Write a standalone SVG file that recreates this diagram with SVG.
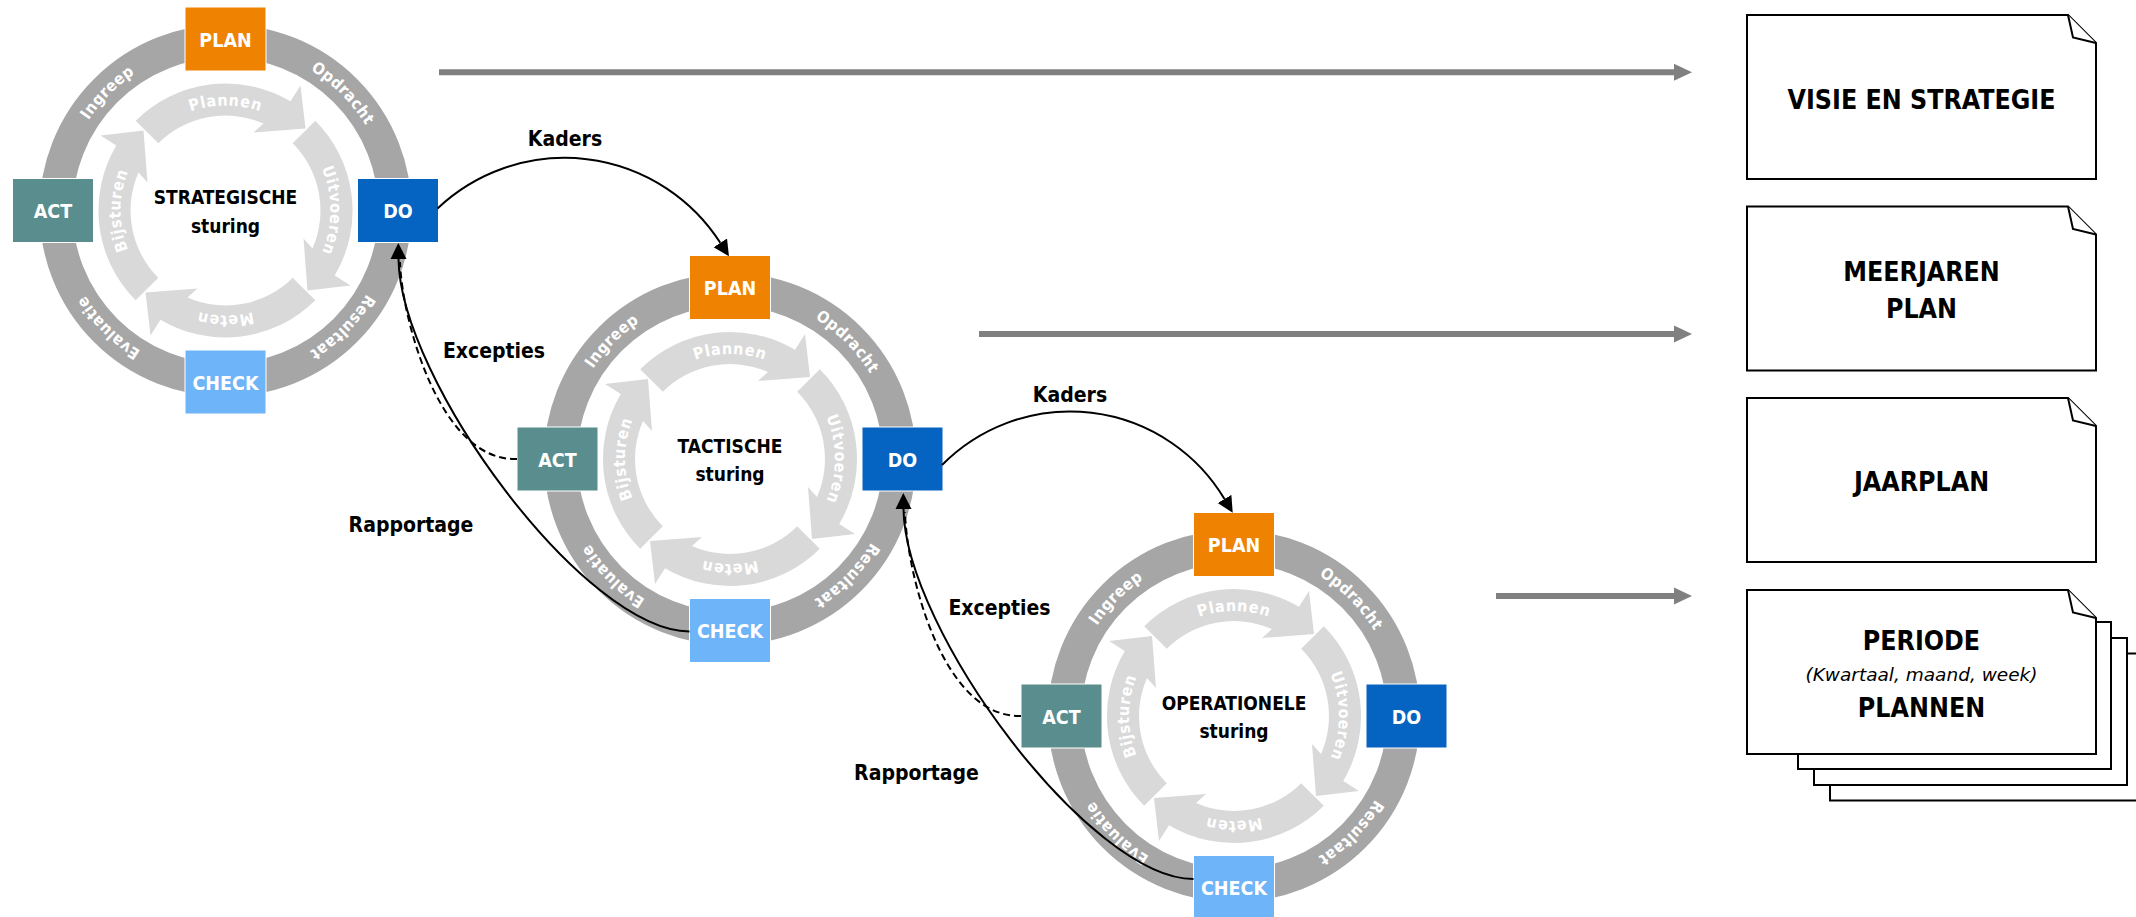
<svg xmlns="http://www.w3.org/2000/svg" width="2136" height="917" viewBox="0 0 2136 917">
<style>
.b{font-family:"DejaVu Sans Condensed","DejaVu Sans",sans-serif;font-stretch:condensed;font-weight:bold}
.ring{fill:none;stroke:#a6a6a6;stroke-width:33}
.arw{fill:#d9d9d9}
.rt{font-size:16px;fill:#fff;letter-spacing:0.5px}
.it{font-size:16px;fill:#fff;letter-spacing:0.8px}
.ctr{font-size:19px;fill:#000;text-anchor:middle}
.bx{stroke:#fff;stroke-width:1}
.bl{font-size:19.5px;fill:#fff;text-anchor:middle}
.plan{fill:#ef8200}.do{fill:#0563c1}.act{fill:#5a8e8e}.check{fill:#6eb4f8}
.lbl{font-size:21px;fill:#000;text-anchor:middle}
.conn{fill:none;stroke:#000;stroke-width:2}
.dash{stroke-dasharray:7 4}
.garr{stroke:#808080;stroke-width:6;fill:none}
.doc{fill:#fff;stroke:#000;stroke-width:2;stroke-linejoin:miter}
.dt{font-size:26.5px;fill:#000;text-anchor:middle}
.di{font-family:"DejaVu Sans",sans-serif;font-style:italic;font-weight:normal;font-size:18.5px;fill:#000;text-anchor:middle}
</style>
<defs>
<path id="arw" d="M-89.8,-89.8 A127,127 0 0 1 65,-109.2 L75,-125 L80,-82 L28,-78 L38,-87 A95,95 0 0 0 -67.2,-67.2 Z"/>
<path id="p-opd" d="M-115.97,-115.97 A164,164 0 0 1 115.97,115.97"/>
<path id="p-res" d="M115.97,-115.97 A164,164 0 0 1 -115.97,115.97"/>
<path id="p-eva" d="M115.97,115.97 A164,164 0 0 1 -115.97,-115.97"/>
<path id="p-ing" d="M-115.97,115.97 A164,164 0 0 1 115.97,-115.97"/>
<path id="p-pla" d="M-105,0 A105,105 0 0 1 105,0"/>
<path id="p-uit" d="M0,-105 A105,105 0 0 1 0,105"/>
<path id="p-met" d="M105,0 A105,105 0 0 1 -105,0"/>
<path id="p-bij" d="M0,105 A105,105 0 0 1 0,-105"/>
<marker id="ah" markerUnits="userSpaceOnUse" markerWidth="18" markerHeight="18" viewBox="0 -9 18 18" refX="0" refY="0" orient="auto"><path d="M0,-8 L16,0 L0,8 Z" fill="#000"/></marker>
<marker id="gh" markerUnits="userSpaceOnUse" markerWidth="20" markerHeight="20" viewBox="0 -10 20 20" refX="0" refY="0" orient="auto"><path d="M0,-8.5 L18,0 L0,8.5 Z" fill="#808080"/></marker>
</defs>

<g id="cycle-strategisch" transform="translate(225.5,210.5)">
<circle class="ring" r="169.5"/>
<use href="#arw" class="arw"/><use href="#arw" class="arw" transform="rotate(90)"/><use href="#arw" class="arw" transform="rotate(180)"/><use href="#arw" class="arw" transform="rotate(270)"/>
<text class="b rt" text-anchor="middle"><textPath href="#p-opd" startOffset="50%">Opdracht</textPath></text>
<text class="b rt" text-anchor="middle"><textPath href="#p-res" startOffset="50%">Resultaat</textPath></text>
<text class="b rt" text-anchor="middle"><textPath href="#p-eva" startOffset="50%">Evaluatie</textPath></text>
<text class="b rt" text-anchor="middle"><textPath href="#p-ing" startOffset="50%">Ingreep</textPath></text>
<text class="b it" text-anchor="middle"><textPath href="#p-pla" startOffset="50%">Plannen</textPath></text>
<text class="b it" text-anchor="middle"><textPath href="#p-uit" startOffset="50%">Uitvoeren</textPath></text>
<text class="b it" text-anchor="middle"><textPath href="#p-met" startOffset="50%">Meten</textPath></text>
<text class="b it" text-anchor="middle"><textPath href="#p-bij" startOffset="50%">Bijsturen</textPath></text>
<text class="b ctr" y="-6.5">STRATEGISCHE</text>
<text class="b ctr" y="22">sturing</text>
<g id="s-plan"><rect class="plan bx" x="-40.5" y="-203.5" width="81" height="64"/><text class="b bl" y="-164">PLAN</text></g>
<g id="s-do"><rect class="do bx" x="132" y="-32" width="81" height="64"/><text class="b bl" x="172.5" y="7.5">DO</text></g>
<g id="s-check"><rect class="check bx" x="-40.5" y="139.5" width="81" height="64"/><text class="b bl" y="179">CHECK</text></g>
<g id="s-act"><rect class="act bx" x="-213" y="-32" width="81" height="64"/><text class="b bl" x="-172.5" y="7.5">ACT</text></g>
</g>

<g id="cycle-tactisch" transform="translate(730,459)">
<circle class="ring" r="169.5"/>
<use href="#arw" class="arw"/><use href="#arw" class="arw" transform="rotate(90)"/><use href="#arw" class="arw" transform="rotate(180)"/><use href="#arw" class="arw" transform="rotate(270)"/>
<text class="b rt" text-anchor="middle"><textPath href="#p-opd" startOffset="50%">Opdracht</textPath></text>
<text class="b rt" text-anchor="middle"><textPath href="#p-res" startOffset="50%">Resultaat</textPath></text>
<text class="b rt" text-anchor="middle"><textPath href="#p-eva" startOffset="50%">Evaluatie</textPath></text>
<text class="b rt" text-anchor="middle"><textPath href="#p-ing" startOffset="50%">Ingreep</textPath></text>
<text class="b it" text-anchor="middle"><textPath href="#p-pla" startOffset="50%">Plannen</textPath></text>
<text class="b it" text-anchor="middle"><textPath href="#p-uit" startOffset="50%">Uitvoeren</textPath></text>
<text class="b it" text-anchor="middle"><textPath href="#p-met" startOffset="50%">Meten</textPath></text>
<text class="b it" text-anchor="middle"><textPath href="#p-bij" startOffset="50%">Bijsturen</textPath></text>
<text class="b ctr" y="-6.5">TACTISCHE</text>
<text class="b ctr" y="22">sturing</text>
<g id="t-plan"><rect class="plan bx" x="-40.5" y="-203.5" width="81" height="64"/><text class="b bl" y="-164">PLAN</text></g>
<g id="t-do"><rect class="do bx" x="132" y="-32" width="81" height="64"/><text class="b bl" x="172.5" y="7.5">DO</text></g>
<g id="t-check"><rect class="check bx" x="-40.5" y="139.5" width="81" height="64"/><text class="b bl" y="179">CHECK</text></g>
<g id="t-act"><rect class="act bx" x="-213" y="-32" width="81" height="64"/><text class="b bl" x="-172.5" y="7.5">ACT</text></g>
</g>

<g id="cycle-operationeel" transform="translate(1234,716)">
<circle class="ring" r="169.5"/>
<use href="#arw" class="arw"/><use href="#arw" class="arw" transform="rotate(90)"/><use href="#arw" class="arw" transform="rotate(180)"/><use href="#arw" class="arw" transform="rotate(270)"/>
<text class="b rt" text-anchor="middle"><textPath href="#p-opd" startOffset="50%">Opdracht</textPath></text>
<text class="b rt" text-anchor="middle"><textPath href="#p-res" startOffset="50%">Resultaat</textPath></text>
<text class="b rt" text-anchor="middle"><textPath href="#p-eva" startOffset="50%">Evaluatie</textPath></text>
<text class="b rt" text-anchor="middle"><textPath href="#p-ing" startOffset="50%">Ingreep</textPath></text>
<text class="b it" text-anchor="middle"><textPath href="#p-pla" startOffset="50%">Plannen</textPath></text>
<text class="b it" text-anchor="middle"><textPath href="#p-uit" startOffset="50%">Uitvoeren</textPath></text>
<text class="b it" text-anchor="middle"><textPath href="#p-met" startOffset="50%">Meten</textPath></text>
<text class="b it" text-anchor="middle"><textPath href="#p-bij" startOffset="50%">Bijsturen</textPath></text>
<text class="b ctr" y="-6.5">OPERATIONELE</text>
<text class="b ctr" y="22">sturing</text>
<g id="o-plan"><rect class="plan bx" x="-40.5" y="-203.5" width="81" height="64"/><text class="b bl" y="-164">PLAN</text></g>
<g id="o-do"><rect class="do bx" x="132" y="-32" width="81" height="64"/><text class="b bl" x="172.5" y="7.5">DO</text></g>
<g id="o-check"><rect class="check bx" x="-40.5" y="139.5" width="81" height="64"/><text class="b bl" y="179">CHECK</text></g>
<g id="o-act"><rect class="act bx" x="-213" y="-32" width="81" height="64"/><text class="b bl" x="-172.5" y="7.5">ACT</text></g>
</g>

<g id="doc-visie">
<path class="doc" d="M1747,15 H2068 L2096,43 V179 H1747 Z"/><path class="doc" d="M2068,15 L2073,37.5 L2096,43"/>
<text class="b dt" x="1921.5" y="109">VISIE EN STRATEGIE</text>
</g>
<g id="doc-meerjaren">
<path class="doc" d="M1747,206.5 H2068 L2096,234.5 V370.5 H1747 Z"/><path class="doc" d="M2068,206.5 L2073,229 L2096,234.5"/>
<text class="b dt" x="1921.5" y="281">MEERJAREN</text>
<text class="b dt" x="1921.5" y="318">PLAN</text>
</g>
<g id="doc-jaarplan">
<path class="doc" d="M1747,398 H2068 L2096,426 V562 H1747 Z"/><path class="doc" d="M2068,398 L2073,420.5 L2096,426"/>
<text class="b dt" x="1921.5" y="491">JAARPLAN</text>
</g>
<g id="doc-periode">
<rect class="doc" x="1830" y="653.5" width="320" height="147"/>
<rect class="doc" x="1814" y="638" width="313" height="147"/>
<rect class="doc" x="1798" y="622" width="313" height="147"/>
<path class="doc" d="M1747,590 H2068 L2096,618 V754 H1747 Z"/><path class="doc" d="M2068,590 L2073,612.5 L2096,618"/>
<text class="b dt" x="1921.5" y="649.5">PERIODE</text>
<text class="di" x="1921.5" y="681">(Kwartaal, maand, week)</text>
<text class="b dt" x="1921.5" y="717">PLANNEN</text>
</g>

<g id="connectors">
<path class="garr" d="M439,72.3 H1674" marker-end="url(#gh)"/>
<path class="garr" d="M979,334 H1674" marker-end="url(#gh)"/>
<path class="garr" d="M1496,596 H1674" marker-end="url(#gh)"/>
<path class="conn" d="M437.5,208.5 A185,185 0 0 1 720.3,242.8" marker-end="url(#ah)"/>
<path class="conn" d="M942,465 A180,180 0 0 1 1224.5,499" marker-end="url(#ah)"/>
<path class="conn" d="M689.5,631.5 C585,631.5 400,380 398.5,259" marker-end="url(#ah)"/>
<path class="conn dash" d="M517,459 C440,462 402,320 400,262"/>
<path class="conn" d="M1193.5,879 C1090,879 905,630 903.5,509" marker-end="url(#ah)"/>
<path class="conn dash" d="M1021,716 C943,718 907,576 905,512"/>
<text class="b lbl" x="565" y="145.5">Kaders</text>
<text class="b lbl" x="1070" y="401.5">Kaders</text>
<text class="b lbl" x="494" y="357.5">Excepties</text>
<text class="b lbl" x="411" y="531.5">Rapportage</text>
<text class="b lbl" x="999.5" y="615">Excepties</text>
<text class="b lbl" x="916.5" y="780">Rapportage</text>
</g>
</svg>
